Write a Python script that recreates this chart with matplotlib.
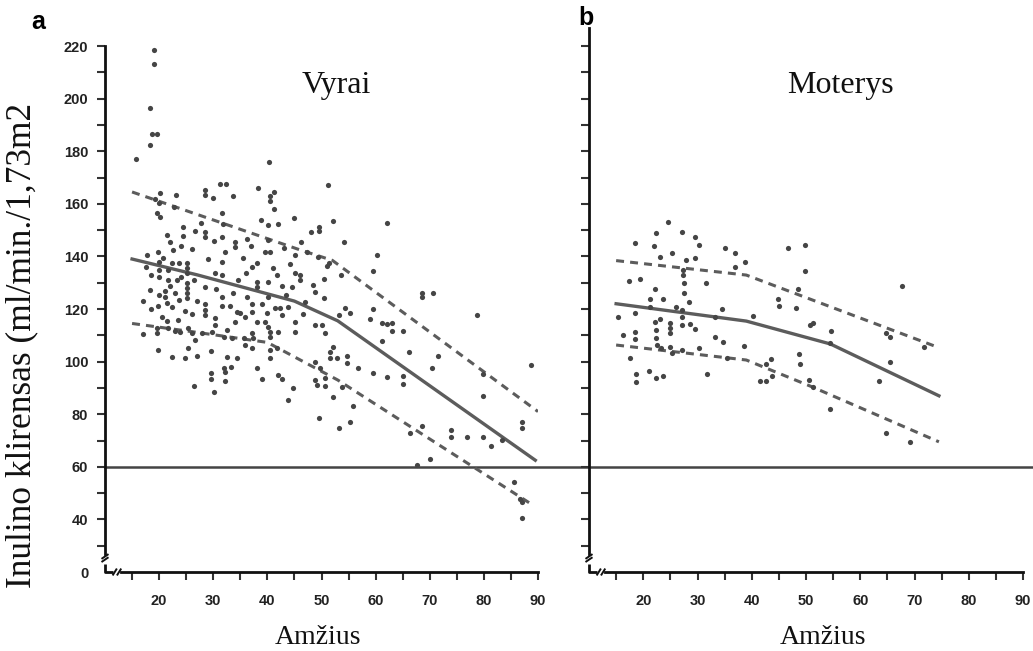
import matplotlib
matplotlib.use('Agg')
import matplotlib.pyplot as plt
import matplotlib.transforms as mtransforms

# inulin clearance vs age, men (a) and women (b)
men_age = [19.1, 19.1, 18.3, 18.6, 19.6, 18.4, 15.7, 40.3, 31.3, 32.3, 38.2, 51.2,
           28.5, 28.5, 30.0, 33.7, 41.3, 40.4, 40.4, 20.2, 23.2, 19.2, 19.9, 22.8,
           19.6, 20.2, 31.6, 41.3, 45.0, 38.8, 40.1, 41.9, 27.7, 31.8, 52.2, 24.5,
           26.6, 28.5, 28.5, 30.2, 31.6, 34.0, 34.0, 36.3, 37.0, 40.1, 21.4, 22.0,
           24.5, 48.1, 49.6, 49.6, 46.2, 32.1, 39.5, 40.4, 43.0, 19.7, 17.7,
           45.1, 47.3, 49.4, 51.3, 51.0, 31.6, 37.1, 38.0, 41.1, 44.2, 30.3, 31.7,
           41.7, 45.1, 46.1, 46.1, 50.4, 19.9, 19.9, 19.9, 22.3, 23.6, 25.1, 25.1,
           25.1, 21.7, 18.3, 21.7, 23.3, 22.0, 25.1, 25.1, 25.1, 25.1, 28.5, 19.9,
           21.1, 21.4, 22.3, 23.6, 19.7, 24.8, 28.5, 28.5, 28.5, 31.6, 31.6, 33.1,
           33.7, 36.2, 38.0, 38.0, 40.2, 40.2, 42.7, 37.1, 39.0, 41.4, 42.4, 43.9,
           34.3, 35.0, 37.1, 39.9, 42.7, 35.9, 44.5, 48.5, 48.8, 50.4, 47.0, 30.3,
           34.0, 38.0, 39.6, 45.1, 45.1, 48.8, 50.1, 50.7, 42.0, 40.2, 40.5, 40.5,
           19.6, 19.6, 21.7, 22.9, 23.9, 25.4, 26.0, 26.6, 25.4, 27.9, 29.7, 30.3,
           32.5, 31.9, 33.4, 35.6, 35.9, 37.1, 37.1, 37.4, 40.5, 40.5, 41.7, 19.7,
           22.3, 24.7, 32.5, 34.3, 33.3, 31.9, 32.2, 29.6, 29.6, 32.1, 38.0, 39.0,
           42.0, 42.7, 26.5, 30.2, 44.8, 43.9, 48.8, 49.7, 48.8, 49.1, 50.7, 50.7,
           51.6, 51.6, 52.2, 52.2, 49.6,
           17.5, 18.5, 20.8, 21.0, 23.0, 24.0, 26.5, 27.0, 20.5, 21.5, 23.5, 26.0,
           18.5, 17.0, 22.5, 24.0, 26.0, 29.0, 30.5, 34.5, 36.0, 29.5, 27.0, 17.0,
           35.5, 43.5, 46.5,
           62.1, 54.1, 60.2, 59.5, 53.6, 68.5, 68.5, 70.6, 78.7, 54.4, 55.3, 53.3,
           59.5, 58.9, 61.1, 62.1, 63.0, 63.0, 65.0, 61.1,
           52.8, 54.7, 54.7, 66.1, 71.6, 70.4, 56.7, 59.6, 62.1, 65.0, 65.0, 53.7,
           55.8, 55.3, 53.3, 79.9, 79.9, 88.7, 87.0, 87.0, 68.5, 66.3, 73.9, 73.9,
           76.9, 79.9, 81.3, 83.3, 70.1, 67.7, 85.5, 86.7, 87.0, 87.0]
men_gfr = [218.5, 213.0, 196.6, 186.4, 186.7, 182.4, 177.0, 175.8, 167.4, 167.4, 166.1, 167.2,
           165.2, 163.3, 162.3, 163.1, 164.6, 163.0, 161.1, 164.0, 163.3, 161.7, 160.2, 158.9,
           156.4, 155.1, 156.6, 158.0, 154.5, 153.8, 152.0, 152.3, 152.8, 152.2, 153.6, 151.0,
           149.7, 149.4, 147.5, 145.9, 147.3, 145.6, 143.7, 146.6, 144.1, 146.2, 148.1, 145.6,
           147.9, 149.4, 151.3, 149.8, 145.3, 141.6, 141.8, 141.8, 143.1, 141.8, 140.5,
           140.5, 141.8, 139.9, 137.4, 136.2, 138.0, 136.1, 137.4, 135.7, 137.1, 133.6, 132.9,
           132.9, 133.6, 132.9, 131.0, 131.3, 138.0, 134.8, 132.3, 137.4, 137.4, 137.4, 135.5,
           133.6, 134.8, 127.2, 131.0, 131.0, 128.7, 129.8, 127.9, 125.9, 124.0, 128.2, 125.3,
           124.7, 122.1, 120.6, 123.4, 121.1, 119.2, 121.8, 119.6, 117.7, 124.7, 121.1, 121.1,
           126.2, 124.7, 130.4, 128.5, 130.1, 124.7, 128.7, 121.8, 121.8, 120.3, 120.3, 120.9,
           119.0, 118.5, 119.0, 118.3, 117.7, 117.1, 128.5, 129.1, 126.6, 124.0, 122.8, 116.4,
           115.2, 115.2, 115.2, 115.2, 111.4, 113.9, 113.9, 111.0, 111.4, 113.3, 111.4, 109.5,
           112.6, 111.0, 112.6, 111.8, 111.4, 112.6, 110.7, 108.2, 105.0, 110.7, 111.4, 113.9,
           112.0, 109.5, 108.8, 108.8, 106.3, 105.0, 110.7, 108.8, 104.4, 101.2, 105.0, 104.4,
           101.9, 101.5, 101.9, 101.2, 98.1, 97.4, 96.2, 95.8, 93.3, 92.6, 97.4, 93.3,
           94.9, 93.3, 90.8, 88.6, 89.8, 85.4, 100.0, 97.4, 93.0, 91.1, 93.6, 90.7,
           101.2, 103.8, 105.7, 86.7, 78.4,
           136.0, 133.0, 139.5, 127.0, 126.0, 132.0, 131.0, 123.0, 117.0, 115.5, 116.0, 118.0,
           120.0, 123.0, 142.5, 144.0, 143.0, 139.0, 127.5, 131.0, 133.5, 104.0, 102.0, 110.5,
           139.5, 125.5, 118.0,
           152.6, 145.4, 140.5, 134.4, 132.9, 126.2, 124.4, 126.2, 117.7, 120.5, 118.4, 117.7,
           120.0, 116.1, 114.8, 114.2, 114.8, 111.8, 111.8, 107.8,
           101.2, 102.1, 99.6, 103.8, 102.3, 97.4, 97.7, 95.8, 94.3, 94.5, 91.5, 90.5,
           83.1, 77.1, 74.6, 95.3, 86.9, 98.7, 77.1, 74.6, 75.6, 73.0, 74.0, 71.2,
           71.2, 71.4, 67.9, 70.2, 62.8, 60.7, 54.3, 47.6, 46.7, 40.4]

women_age = [24.5, 22.3, 27.2, 29.6, 18.5, 21.9, 30.3, 35.0, 37.0, 46.7, 49.8, 23.0,
             25.3, 27.9, 29.5, 38.8, 37.0, 49.8, 27.4, 17.4, 19.4, 27.4, 27.6, 31.6,
             22.2, 27.6, 21.3, 23.6, 28.5, 44.9, 45.0, 48.1, 48.5, 67.7, 18.5, 21.3,
             26.1, 27.1, 34.5, 33.3, 40.2, 15.4, 23.1, 22.2, 25.0, 25.0, 25.0, 27.1,
             27.1, 28.7, 29.6, 50.8, 51.3, 54.7, 54.4, 64.7, 65.5, 71.8, 16.3, 18.5,
             18.5, 22.4, 22.4, 33.3, 34.7, 38.6, 22.5, 23.3, 25.0, 25.3, 27.1, 30.2,
             17.6, 35.4, 43.5, 42.7, 48.7, 48.9, 65.5, 18.6, 18.6, 21.0, 22.4, 23.6,
             31.7, 41.5, 42.7, 43.8, 50.5, 51.3, 54.4, 63.5, 64.7, 69.2]
women_gfr = [153.1, 148.8, 149.4, 147.2, 145.2, 144.1, 144.3, 143.3, 141.4, 143.3, 144.3, 139.9,
             141.2, 138.6, 139.5, 137.7, 136.1, 134.6, 134.8, 130.8, 131.5, 132.9, 129.8, 129.8,
             127.5, 126.2, 123.9, 123.8, 122.5, 123.8, 121.1, 120.5, 127.5, 128.9, 118.6, 120.6,
             120.9, 119.6, 120.0, 116.8, 117.5, 117.1, 116.2, 115.2, 114.5, 112.6, 110.7, 117.1,
             113.9, 114.3, 112.4, 113.9, 114.8, 111.6, 106.9, 110.7, 109.5, 105.7, 110.1, 111.4,
             108.5, 112.0, 109.1, 109.5, 107.6, 106.0, 106.3, 105.0, 105.7, 103.1, 104.4, 105.3,
             101.5, 101.2, 100.9, 98.9, 102.8, 98.9, 99.7, 95.2, 92.4, 96.4, 93.6, 94.6,
             95.2, 92.7, 92.7, 94.6, 93.0, 90.5, 82.0, 92.6, 72.7, 69.3]

# fitted percentile curves (median solid, bounds dashed)
men_mid_age = [15, 27, 45, 53, 89.5]
men_mid = [139, 133, 123, 115.5, 62.5]
men_hi_age = [15, 46, 52, 90]
men_hi = [164.5, 142.5, 138.5, 81]
men_lo_age = [15, 26, 40, 53, 89]
men_lo = [114.5, 111.4, 107.3, 93, 45.5]

women_mid_age = [15, 39, 54.5, 74.5]
women_mid = [122, 115.4, 106.7, 87]
women_hi_age = [15, 39, 74.5]
women_hi = [138.4, 132.9, 105.3]
women_lo_age = [15, 39, 51, 74.5]
women_lo = [106.3, 100.6, 90.5, 69.5]

limit = 60
x_major = [20, 30, 40, 50, 60, 70, 80, 90]
y_major = [20, 40, 60, 80, 100, 120, 140, 160, 180, 200, 220]
y_labels = ['0', '40', '60', '80', '100', '120', '140', '160', '180', '200', '220']

tick_font = dict(family='Liberation Sans', weight='bold', size=10.5)
serif = 'Liberation Serif'
dot_col = '#454545'
line_col = '#5c5c5c'

fig = plt.figure(figsize=(10.33, 6.51), dpi=100)
W, H = 1033., 651.
ax1 = fig.add_axes([105 / W, 79 / H, 433 / W, 526 / H])
ax2 = fig.add_axes([589 / W, 79 / H, 434 / W, 544 / H])
ax1.set_ylim(20, 220)
ax2.set_ylim(20, 20 + 544 / 2.63)


def draw_panel(ax, age, gfr, curves):
    ax.set_xlim(10, 90)
    ax.scatter(age, gfr, s=14, color=dot_col, linewidths=0, zorder=3)
    for xs, ys, dashed in curves:
        if dashed:
            ax.plot(xs, ys, color=line_col, lw=2.2, dashes=(2.6, 2.0), zorder=2)
        else:
            ax.plot(xs, ys, color=line_col, lw=2.4, zorder=2)
    for side in ['top', 'right']:
        ax.spines[side].set_visible(False)
    for side in ['left', 'bottom']:
        ax.spines[side].set_linewidth(2.0)
        ax.spines[side].set_color('#111111')
    top = ax.get_ylim()[1]
    ax.spines['left'].set_bounds(27, top)
    ax.spines['bottom'].set_bounds(13.0, 90)
    ax.set_xticks(x_major)
    ax.set_xticks([15, 25, 35, 45, 55, 65, 75, 85], minor=True)
    ax.set_xticklabels([str(v) for v in x_major], fontdict=tick_font, color='#222222')
    ax.tick_params(axis='both', which='both', direction='out', length=6, width=1.5,
                   color='#333333')
    ax.tick_params(axis='x', which='major', pad=10)
    ax.tick_params(axis='y', which='major', pad=6)
    ax.set_facecolor('none')
    # broken-axis corner
    k = dict(color='#111111', lw=2.0, clip_on=False, solid_capstyle='butt')
    ax.plot([10, 10, 11.4], [23.2, 20, 20], **k)
    ax.plot([9.5, 10.5], [24.0, 25.4], color='#111111', lw=1.4, clip_on=False)
    ax.plot([9.5, 10.5], [25.2, 26.6], color='#111111', lw=1.4, clip_on=False)
    ax.plot([11.5, 12.1], [19.0, 21.0], color='#111111', lw=1.4, clip_on=False)
    ax.plot([12.3, 12.9], [19.0, 21.0], color='#111111', lw=1.4, clip_on=False)


draw_panel(ax1, men_age, men_gfr,
           [(men_mid_age, men_mid, False), (men_hi_age, men_hi, True), (men_lo_age, men_lo, True)])
draw_panel(ax2, women_age, women_gfr,
           [(women_mid_age, women_mid, False), (women_hi_age, women_hi, True),
            (women_lo_age, women_lo, True)])

ax1.set_yticks(y_major)
ax1.set_yticks(list(range(30, 220, 20)), minor=True)
ax1.set_yticklabels(y_labels, fontdict=tick_font, color='#222222')
ax1.yaxis.get_major_ticks()[0].tick1line.set_visible(False)

ax2.set_yticks(list(range(30, 230, 10)))
ax2.set_yticklabels([])

# reference level at 60 running across both panels
trans = mtransforms.blended_transform_factory(fig.transFigure, ax1.transData)
ax1.plot([105 / W, 1.0], [limit, limit], transform=trans, color='#444444', lw=1.8,
         clip_on=False, zorder=1)

fig.text(336 / W, 1 - 86 / H, 'Vyrai', ha='center', va='center',
         family=serif, fontsize=23, color='#111111')
fig.text(840 / W, 1 - 86 / H, 'Moterys', ha='center', va='center',
         family=serif, fontsize=23, color='#111111')

fig.text(38 / W, 1 - 22 / H, 'a', ha='center', va='center', family='Liberation Sans',
         weight='bold', fontsize=18)
fig.text(586 / W, 1 - 18 / H, 'b', ha='center', va='center', family='Liberation Sans',
         weight='bold', fontsize=18)
fig.text(22 / W, 1 - 345 / H, 'Inulino klirensas (ml/min./1,73m2', rotation=90,
         ha='center', va='center', family=serif, fontsize=25.5, color='#111111')
fig.text(318 / W, 1 - 638 / H, 'Amžius', ha='center', va='center', family=serif,
         fontsize=20, color='#111111')
fig.text(823 / W, 1 - 638 / H, 'Amžius', ha='center', va='center', family=serif,
         fontsize=20, color='#111111')

plt.savefig('out.png', dpi=100, facecolor='white')
